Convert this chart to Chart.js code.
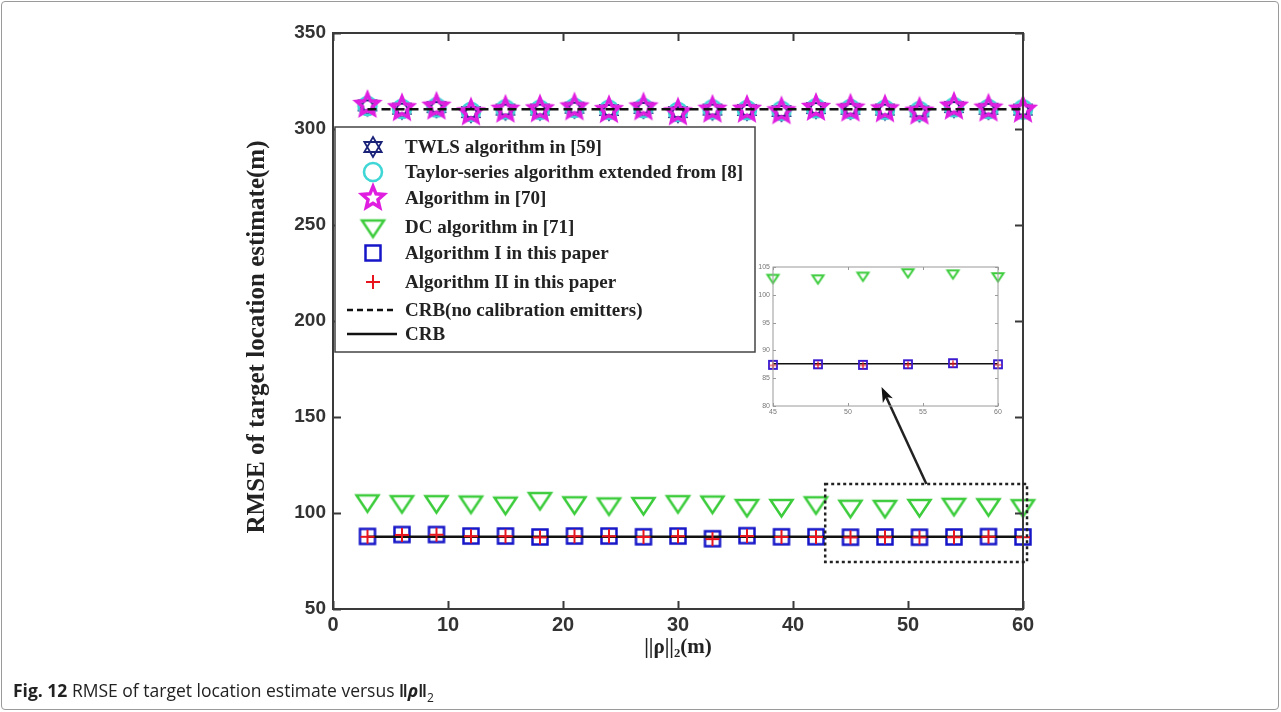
<!DOCTYPE html>
<html>
<head>
<meta charset="utf-8">
<script src="https://cdn.jsdelivr.net/npm/chart.js@4.4.1/dist/chart.umd.min.js"></script>
<style>
  html, body { margin: 0; padding: 0; background: #fff; }
  #frame { position: absolute; left: 1px; top: 1px; width: 1276px; height: 707px; border: 1px solid #9a9a9a; border-radius: 4px; }
  #main { position: absolute; left: 0; top: 0; }
  #inset { position: absolute; left: 745px; top: 258px; }
  #caption { position: absolute; left: 13px; top: 678px; font-family: "Open Sans", sans-serif; font-size: 17.5px; color: #222; }
  #caption sub { font-size: 12px; }
</style>
</head>
<body>
<div id="frame"></div>
<canvas id="main" width="1281" height="712"></canvas>
<canvas id="inset" width="262" height="162"></canvas>
<div id="caption"><b>Fig. 12</b> RMSE of target location estimate versus <b>‖<i>ρ</i>‖</b><sub>2</sub></div>
<script>
let distances = [3, 6, 9, 12, 15, 18, 21, 24, 27, 30, 33, 36, 39, 42, 45, 48, 51, 54, 57, 60];
let twlsRmse = [312.3, 310.6, 311.4, 308.8, 310.1, 310.1, 311.1, 309.9, 311.0, 308.8, 310.1, 309.9, 309.4, 310.9, 310.5, 310.1, 309.2, 311.4, 310.5, 310.1];
let taylorRmse = [312.0, 310.5, 311.2, 308.9, 310.2, 310.0, 311.0, 310.0, 310.9, 308.9, 310.2, 309.8, 309.5, 310.8, 310.4, 310.0, 309.3, 311.3, 310.4, 310.2];
let alg70Rmse = [312.5, 310.8, 311.6, 308.6, 310.0, 310.2, 311.2, 309.8, 311.2, 308.6, 310.0, 310.0, 309.2, 311.0, 310.6, 310.2, 309.0, 311.6, 310.6, 310.0];
let dcRmse = [105.8, 105.4, 105.4, 105.2, 104.6, 107.0, 104.8, 104.2, 104.4, 105.4, 105.2, 103.4, 103.4, 104.8, 103.0, 102.9, 103.4, 104.0, 103.8, 103.3];
let algIRmse = [87.8, 88.8, 88.8, 88.0, 88.0, 87.5, 88.0, 88.0, 87.6, 88.0, 86.6, 88.2, 87.6, 87.6, 87.4, 87.5, 87.4, 87.5, 87.7, 87.5];
let algIIRmse = [87.6, 88.6, 88.7, 87.9, 87.9, 87.3, 87.9, 87.9, 87.5, 87.9, 86.4, 88.0, 87.5, 87.5, 87.3, 87.4, 87.3, 87.4, 87.6, 87.4];
let crbNoCal = [310.3, 310.3, 310.3, 310.3, 310.3, 310.3, 310.3, 310.3, 310.3, 310.3, 310.3, 310.3, 310.3, 310.3, 310.3, 310.3, 310.3, 310.3, 310.3, 310.3];
let crb = [87.6, 87.6, 87.6, 87.6, 87.6, 87.6, 87.6, 87.6, 87.6, 87.6, 87.6, 87.6, 87.6, 87.6, 87.6, 87.6, 87.6, 87.6, 87.6, 87.6];

let labels = [
  "TWLS algorithm in [59]",
  "Taylor-series algorithm extended from [8]",
  "Algorithm in [70]",
  "DC algorithm in [71]",
  "Algorithm I in this paper",
  "Algorithm II in this paper",
  "CRB(no calibration emitters)",
  "CRB",
];
let yTitle = "RMSE of target location estimate(m)";

// zoomed region (data units) and arrow into the inset
let zoomBox = { x0: 42.8, x1: 60.35, y0: 74.5, y1: 115.1 };
let arrowFrom = { x: 51.6, y: 115.1 };
let arrowTo = { x: 47.7, y: 165.6 };

let insetStart = 14; // inset shows distances 45..60

// small canvases used as point styles (MATLAB-like outline markers)
function marker(shape, color, size, lw) {
  let d = Math.ceil(size * 2 + lw * 2 + 4);
  let c = document.createElement("canvas");
  c.width = d;
  c.height = d;
  let g = c.getContext("2d");
  let m = d / 2;
  g.strokeStyle = color;
  g.lineWidth = lw;
  g.lineJoin = "miter";
  g.beginPath();
  if (shape === "circle") {
    g.arc(m, m, size, 0, Math.PI * 2);
  } else if (shape === "square") {
    g.rect(m - size, m - size, size * 2, size * 2);
  } else if (shape === "cross") {
    g.moveTo(m - size, m); g.lineTo(m + size, m);
    g.moveTo(m, m - size); g.lineTo(m, m + size);
  } else if (shape === "triangleDown") {
    g.moveTo(m - size, m - size * 0.6);
    g.lineTo(m + size, m - size * 0.6);
    g.lineTo(m, m + size * 0.9);
    g.closePath();
  } else if (shape === "pentagram") {
    for (let i = 0; i < 10; i++) {
      let r = i % 2 ? size * 0.45 : size;
      let a = -Math.PI / 2 + i * Math.PI / 5;
      if (i === 0) g.moveTo(m + r * Math.cos(a), m + r * Math.sin(a));
      else g.lineTo(m + r * Math.cos(a), m + r * Math.sin(a));
    }
    g.closePath();
  } else if (shape === "hexagram") {
    for (let k = 0; k < 2; k++) {
      for (let i = 0; i < 3; i++) {
        let a = (k ? Math.PI / 2 : -Math.PI / 2) + i * 2 * Math.PI / 3;
        if (i === 0) g.moveTo(m + size * Math.cos(a), m + size * Math.sin(a));
        else g.lineTo(m + size * Math.cos(a), m + size * Math.sin(a));
      }
      g.closePath();
    }
  }
  g.stroke();
  return c;
}

let hexMark = marker("hexagram", "#1b2378", 10, 1.8);
let circMark = marker("circle", "#3fd6d6", 9, 2.6);
let starMark = marker("pentagram", "#e01ee0", 11.5, 3.4);
let triMark = marker("triangleDown", "#3ccc3c", 11, 2.5);
let sqMark = marker("square", "#1616c8", 7.5, 2.5);
let crossMark = marker("cross", "#e8141e", 7, 2);

let xy = (ys, from) => ys.slice(from || 0).map((v, i) => ({ x: distances[i + (from || 0)], y: v }));

function pts(data, style, order) {
  return { data: data, showLine: false, pointStyle: style, pointRadius: 8, order: order, clip: false };
}

let boxTicks = (len, color, width) => ({
  id: "boxTicks",
  afterDatasetsDraw(chart) {
    let { ctx, chartArea: a, scales } = chart;
    ctx.save();
    ctx.strokeStyle = color;
    ctx.lineWidth = width;
    ctx.beginPath();
    scales.x.ticks.forEach((t) => {
      let px = Math.round(scales.x.getPixelForValue(t.value)) + 0.5;
      ctx.moveTo(px, a.bottom); ctx.lineTo(px, a.bottom - len);
      ctx.moveTo(px, a.top); ctx.lineTo(px, a.top + len);
    });
    scales.y.ticks.forEach((t) => {
      let py = Math.round(scales.y.getPixelForValue(t.value)) + 0.5;
      ctx.moveTo(a.left, py); ctx.lineTo(a.left + len, py);
      ctx.moveTo(a.right, py); ctx.lineTo(a.right - len, py);
    });
    ctx.stroke();
    ctx.strokeRect(a.left, a.top, a.right - a.left, a.bottom - a.top);
    ctx.restore();
  },
});

let annotations = {
  id: "annotations",
  afterDraw(chart) {
    let { ctx, scales: { x, y } } = chart;
    let a = chart.chartArea;
    ctx.save();

    // y axis title, rotated, sitting a little below the plot centre
    ctx.save();
    ctx.translate(a.left - 75, (a.top + a.bottom) / 2 + 16);
    ctx.rotate(-Math.PI / 2);
    ctx.font = "bold 25px 'Liberation Serif'";
    ctx.fillStyle = "#222";
    ctx.textAlign = "center";
    ctx.textBaseline = "middle";
    ctx.fillText(yTitle, 0, 0);
    ctx.restore();

    // dotted zoom rectangle
    ctx.strokeStyle = "#222";
    ctx.lineWidth = 2.5;
    ctx.setLineDash([3, 3]);
    let bx0 = x.getPixelForValue(zoomBox.x0), bx1 = x.getPixelForValue(zoomBox.x1);
    let by0 = y.getPixelForValue(zoomBox.y1), by1 = y.getPixelForValue(zoomBox.y0);
    ctx.strokeRect(bx0, by0, bx1 - bx0, by1 - by0);
    ctx.setLineDash([]);

    // arrow
    let ax0 = x.getPixelForValue(arrowFrom.x), ay0 = y.getPixelForValue(arrowFrom.y);
    let ax1 = x.getPixelForValue(arrowTo.x), ay1 = y.getPixelForValue(arrowTo.y);
    let ang = Math.atan2(ay1 - ay0, ax1 - ax0);
    ctx.lineWidth = 2.5;
    ctx.beginPath();
    ctx.moveTo(ax0, ay0);
    ctx.lineTo(ax1 - 8 * Math.cos(ang), ay1 - 8 * Math.sin(ang));
    ctx.stroke();
    ctx.fillStyle = "#111";
    ctx.beginPath();
    ctx.moveTo(ax1, ay1);
    ctx.lineTo(ax1 - 15 * Math.cos(ang) + 5.5 * Math.sin(ang), ay1 - 15 * Math.sin(ang) - 5.5 * Math.cos(ang));
    ctx.lineTo(ax1 - 11 * Math.cos(ang), ay1 - 11 * Math.sin(ang));
    ctx.lineTo(ax1 - 15 * Math.cos(ang) - 5.5 * Math.sin(ang), ay1 - 15 * Math.sin(ang) + 5.5 * Math.cos(ang));
    ctx.closePath();
    ctx.fill();

    // legend box
    let lx = a.left + 2, ly = a.top + 94, lw = 420, lh = 225;
    ctx.fillStyle = "#fff";
    ctx.fillRect(lx, ly, lw, lh);
    ctx.strokeStyle = "#444";
    ctx.lineWidth = 1.5;
    ctx.strokeRect(lx, ly, lw, lh);
    let marks = [hexMark, circMark, starMark, triMark, sqMark, crossMark];
    let rowY = [20, 45, 71, 100, 126, 155, 183, 207];
    ctx.font = "bold 19px 'Liberation Serif'";
    ctx.textBaseline = "middle";
    labels.forEach((lab, i) => {
      let cy = ly + rowY[i];
      if (i < marks.length) {
        let mk = marks[i];
        ctx.drawImage(mk, lx + 38 - mk.width / 2, cy - mk.height / 2);
      } else {
        ctx.strokeStyle = "#111";
        ctx.lineWidth = 2.5;
        ctx.setLineDash(i === 6 ? [6, 4] : []);
        ctx.beginPath();
        ctx.moveTo(lx + 12, cy);
        ctx.lineTo(lx + 62, cy);
        ctx.stroke();
        ctx.setLineDash([]);
      }
      ctx.fillStyle = "#222";
      ctx.fillText(lab, lx + 70, cy + 1);
    });
    ctx.restore();
  },
};

new Chart(document.querySelector("#main"), {
  type: "line",
  data: {
    datasets: [
      { data: xy(crbNoCal), borderColor: "#111", borderWidth: 2.5, borderDash: [9, 5], pointRadius: 0, order: 0, clip: false },
      pts(xy(alg70Rmse), starMark, 1),
      pts(xy(taylorRmse), circMark, 2),
      pts(xy(twlsRmse), hexMark, 3),
      pts(xy(algIIRmse), crossMark, 4),
      { data: xy(crb), borderColor: "#111", borderWidth: 2.5, pointRadius: 0, order: 5, clip: false },
      pts(xy(algIRmse), sqMark, 6),
      pts(xy(dcRmse), triMark, 7),
    ],
  },
  options: {
    responsive: false,
    animation: false,
    layout: { padding: { left: 240, right: 258, top: 33, bottom: 48 } },
    scales: {
      x: {
        type: "linear",
        min: 0,
        max: 60,
        afterFit: (s) => { s.height = 55; },
        grid: { display: false, drawTicks: false },
        border: { display: false },
        ticks: {
          stepSize: 10,
          padding: 4,
          color: "#333",
          font: { size: 20, weight: "bold", family: "'Liberation Sans Narrow', 'Liberation Sans'" },
        },
        title: {
          display: true,
          text: "||ρ||₂(m)",
          color: "#222",
          padding: { top: 0, bottom: 4 },
          font: { size: 21, weight: "bold", family: "'Liberation Serif'" },
        },
      },
      y: {
        min: 50,
        max: 350,
        afterFit: (s) => { s.width = 93; },
        grid: { display: false, drawTicks: false },
        border: { display: false },
        ticks: {
          stepSize: 50,
          padding: 7,
          color: "#333",
          font: { size: 19, weight: "bold", family: "'Liberation Sans Narrow', 'Liberation Sans'" },
        },
      },
    },
    plugins: {
      legend: { display: false },
      tooltip: { enabled: false },
    },
  },
  plugins: [boxTicks(8, "#3a3a3a", 2), annotations],
});

// inset: zoom on the last six distances
let triSmall = marker("triangleDown", "#3ccc3c", 5.5, 2);
let sqSmall = marker("square", "#3a1ad0", 4, 1.8);
let crossSmall = marker("cross", "#e8141e", 3.5, 1.2);

new Chart(document.querySelector("#inset"), {
  type: "line",
  data: {
    datasets: [
      pts(xy(algIIRmse, insetStart), crossSmall, 0),
      pts(xy(algIRmse, insetStart), sqSmall, 1),
      { data: xy(crb, insetStart), borderColor: "#111", borderWidth: 1.6, pointRadius: 0, order: 2, clip: false },
      pts(xy(dcRmse, insetStart), triSmall, 3),
    ],
  },
  options: {
    responsive: false,
    animation: false,
    layout: { padding: { left: 0, right: 4, top: 5, bottom: 0 } },
    scales: {
      x: {
        type: "linear",
        min: 45,
        max: 60,
        afterFit: (s) => { s.height = 14; },
        grid: { display: false, drawTicks: false },
        border: { display: false },
        ticks: { stepSize: 5, padding: 2, color: "#777", font: { size: 7, family: "'Liberation Sans'" } },
      },
      y: {
        min: 80,
        max: 105,
        afterFit: (s) => { s.width = 28; },
        grid: { display: false, drawTicks: false },
        border: { display: false },
        ticks: { stepSize: 5, padding: 3, color: "#777", font: { size: 7, family: "'Liberation Sans'" } },
      },
    },
    plugins: {
      legend: { display: false },
      tooltip: { enabled: false },
    },
  },
  plugins: [boxTicks(3, "#9a9a9a", 1)],
});
</script>
</body>
</html>
